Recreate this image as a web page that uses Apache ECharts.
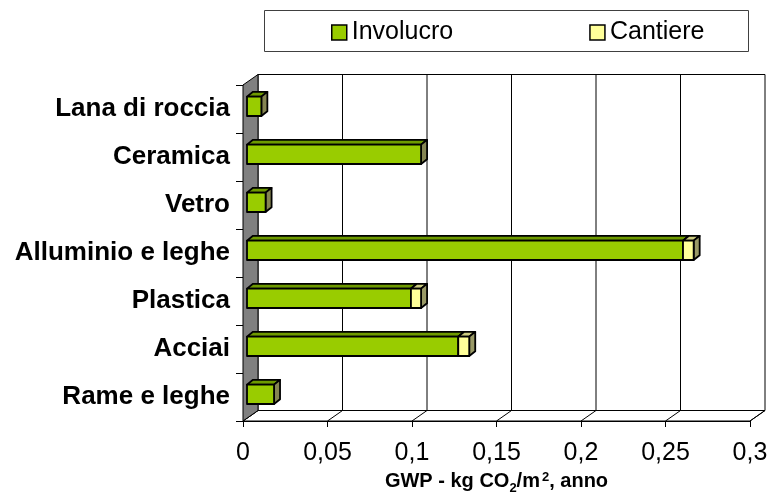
<!DOCTYPE html>
<html>
<head>
<meta charset="utf-8">
<script src="https://cdn.jsdelivr.net/npm/echarts@6/dist/echarts.min.js"></script>
<style>
  html, body { margin: 0; padding: 0; background: #fff; }
  #chart { width: 767px; height: 495px; }
</style>
</head>
<body>
<div id="chart"></div>
<script>
// dati
const categories = ['Lana di roccia', 'Ceramica', 'Vetro', 'Alluminio e leghe', 'Plastica', 'Acciai', 'Rame e leghe']
const involucro = [0.0085, 0.103, 0.011, 0.258, 0.097, 0.125, 0.016]
const cantiere = [0, 0, 0, 0.0063, 0.006, 0.0065, 0]
const xTicks = [0, 0.05, 0.1, 0.15, 0.2, 0.25, 0.3]

const FONT = 'Liberation Sans, Arial, sans-serif'
// profondita' delle pareti (effetto 3D)
const DEPTH = [15, -10.5]

const chart = echarts.init(document.getElementById('chart'))

// barre con faccia frontale, superiore e laterale
function boxItem(colors) {
  return function (params, api) {
    const a = api.value(0)
    const b = api.value(1)
    const c = api.value(2)
    if (b - a <= 0) return null
    const p0 = api.coord([a, c])
    const p1 = api.coord([b, c])
    const band = api.size([0, 1])[1]
    const h = band * 0.405
    const xl = p0[0] + 4
    const xr = p1[0] + 4
    const yc = p0[1] - 2.7
    const yt = yc - h / 2
    const yb = yc + h / 2
    const dx = 6
    const dy = -4.8
    const line = { stroke: '#000', lineWidth: 1.8, lineJoin: 'round' }
    return {
      type: 'group',
      children: [
        {
          type: 'polygon',
          shape: { points: [[xl, yt], [xr, yt], [xr + dx, yt + dy], [xl + dx, yt + dy]] },
          style: Object.assign({ fill: colors.top }, line)
        },
        {
          type: 'polygon',
          shape: { points: [[xr, yt], [xr, yb], [xr + dx, yb + dy], [xr + dx, yt + dy]] },
          style: Object.assign({ fill: colors.side }, line)
        },
        {
          type: 'rect',
          shape: { x: xl, y: yt, width: xr - xl, height: h },
          style: Object.assign({ fill: colors.front }, line)
        }
      ]
    }
  }
}

// pareti, pavimento e griglia di fondo
function frameItem(params, api) {
  const cs = params.coordSys
  const left = cs.x
  const right = cs.x + cs.width
  const top = cs.y
  const bottom = cs.y + cs.height
  const dx = DEPTH[0]
  const dy = DEPTH[1]
  const thin = { stroke: '#000', lineWidth: 1 }
  const children = []
  children.push({
    type: 'rect',
    shape: { x: left + dx, y: top + dy, width: right - left, height: bottom - top },
    style: { fill: '#fff' }
  })
  xTicks.forEach(t => {
    const x = api.coord([t, 0])[0]
    children.push({ type: 'line', shape: { x1: x + dx, y1: top + dy, x2: x + dx, y2: bottom + dy }, style: thin })
  })
  children.push({ type: 'line', shape: { x1: left + dx, y1: top + dy, x2: right + dx, y2: top + dy }, style: thin })
  children.push({
    type: 'polygon',
    shape: { points: [[left, bottom], [right, bottom], [right + dx, bottom + dy], [left + dx, bottom + dy]] },
    style: { fill: '#fff', stroke: '#000', lineWidth: 1 }
  })
  xTicks.forEach(t => {
    const x = api.coord([t, 0])[0]
    children.push({ type: 'line', shape: { x1: x, y1: bottom, x2: x + dx, y2: bottom + dy }, style: thin })
  })
  children.push({
    type: 'polygon',
    shape: { points: [[left, top], [left + dx, top + dy], [left + dx, bottom + dy], [left, bottom]] },
    style: { fill: '#808080', stroke: '#000', lineWidth: 1 }
  })
  return { type: 'group', children: children }
}

const invData = categories.map((c, i) => [0, involucro[i], i])
const cantData = categories.map((c, i) => [involucro[i], involucro[i] + cantiere[i], i])

const option = {
  animation: false,
  backgroundColor: '#fff',
  textStyle: { fontFamily: FONT },
  graphic: [
    {
      type: 'rect',
      z: 0,
      shape: { x: 264.5, y: 10.5, width: 484, height: 41 },
      style: { fill: '#fff', stroke: '#404040', lineWidth: 1 }
    }
  ],
  legend: {
    data: ['Involucro', 'Cantiere'],
    left: 331,
    top: 20,
    padding: 0,
    itemGap: 136,
    itemWidth: 15,
    itemHeight: 15,
    icon: 'rect',
    itemStyle: { borderColor: '#000', borderWidth: 1.5 },
    textStyle: { fontFamily: FONT, fontSize: 25, color: '#000' }
  },
  grid: {
    left: 243,
    top: 85,
    width: 507,
    height: 336,
    outerBoundsMode: 'none'
  },
  xAxis: {
    type: 'value',
    min: 0,
    max: 0.3,
    interval: 0.05,
    axisLine: { show: true, lineStyle: { color: '#000', width: 1 } },
    axisTick: { show: true, length: 6, lineStyle: { color: '#000' } },
    splitLine: { show: false },
    axisLabel: {
      margin: 20,
      fontFamily: FONT,
      fontSize: 25,
      color: '#000',
      formatter: v => String(+v.toFixed(2)).replace('.', ',')
    },
    name: '{a|GWP - kg CO}{s|2}{a|/m}{p|2}{a|, anno}',
    nameLocation: 'middle',
    nameGap: 39,
    nameTextStyle: {
      rich: {
        a: { fontFamily: FONT, fontSize: 20, fontWeight: 'bold', color: '#000', lineHeight: 26 },
        s: { fontFamily: FONT, fontSize: 13, fontWeight: 'bold', color: '#000', verticalAlign: 'bottom' },
        p: { fontFamily: FONT, fontSize: 13, fontWeight: 'bold', color: '#000', verticalAlign: 'top', padding: [2, 0, 0, 2] }
      }
    }
  },
  yAxis: {
    type: 'category',
    inverse: true,
    data: categories,
    axisLine: { show: true, lineStyle: { color: '#000', width: 1 } },
    axisTick: { show: true, length: 7, lineStyle: { color: '#000' } },
    splitLine: { show: false },
    axisLabel: {
      margin: 13,
      fontFamily: FONT,
      fontSize: 26,
      fontWeight: 'bold',
      color: '#000'
    }
  },
  series: [
    {
      name: 'frame',
      type: 'custom',
      z: 1,
      silent: true,
      renderItem: frameItem,
      data: [[0, 0]],
      encode: { x: 0, y: 1 }
    },
    {
      name: 'Involucro',
      type: 'custom',
      z: 3,
      itemStyle: { color: '#99CC00' },
      renderItem: boxItem({ front: '#99CC00', top: '#6E9A00', side: '#858552' }),
      data: invData,
      encode: { x: [0, 1], y: 2 }
    },
    {
      name: 'Cantiere',
      type: 'custom',
      z: 4,
      itemStyle: { color: '#FFFF99' },
      renderItem: boxItem({ front: '#FFFF99', top: '#CCCC80', side: '#999966' }),
      data: cantData,
      encode: { x: [0, 1], y: 2 }
    }
  ]
}

chart.setOption(option)
</script>
</body>
</html>
